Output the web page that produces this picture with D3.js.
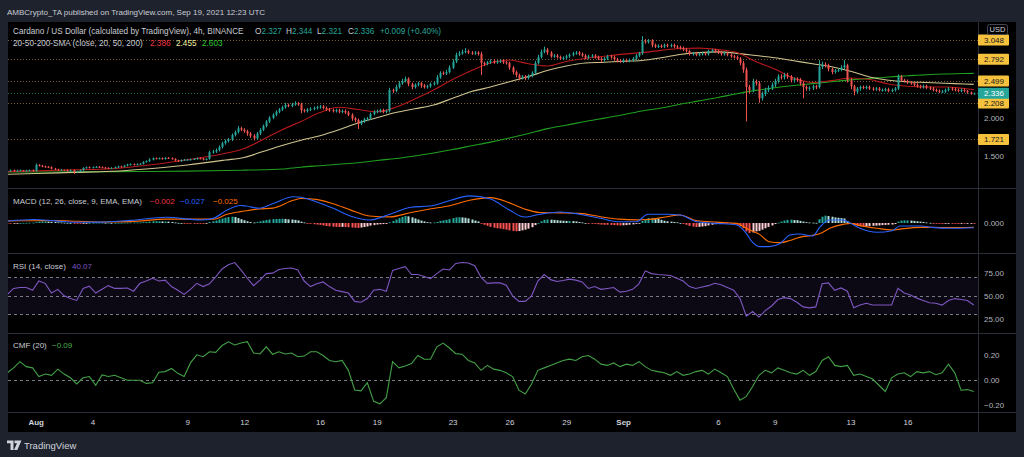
<!DOCTYPE html>
<html><head><meta charset="utf-8">
<script src="https://cdn.jsdelivr.net/npm/d3@7"></script>
<style>
html,body{margin:0;padding:0;background:#1e222d;}
svg{display:block;}
text{font-family:"Liberation Sans",Arial,sans-serif;}
</style></head><body>
<svg id="c" width="1024" height="457"></svg>
<script>
// ---------------- DATA ----------------
// 4h candles from 2021-07-30 12:00 UTC to 2021-09-19 12:00 UTC (open = previous close)
const firstOpen = 1.295;
const closes = [
1.30,1.31,1.30,
1.305,1.31,1.30,1.305,1.31,1.30,
1.38,1.37,1.36,1.355,1.35,1.33,
1.32,1.31,1.315,1.31,1.30,1.31,
1.29,1.295,1.31,1.34,1.35,1.345,
1.35,1.355,1.35,1.345,1.34,1.335,
1.34,1.35,1.36,1.355,1.37,1.385,
1.39,1.385,1.39,1.395,1.42,1.43,
1.45,1.47,1.465,1.47,1.46,1.475,
1.47,1.46,1.44,1.43,1.445,1.45,
1.45,1.455,1.46,1.47,1.465,1.45,
1.46,1.55,1.56,1.58,1.62,1.67,
1.70,1.72,1.78,1.82,1.87,1.85,
1.83,1.80,1.77,1.735,1.80,1.85,
1.90,1.96,2.01,2.05,2.09,2.12,
2.15,2.18,2.17,2.19,2.20,2.19,
2.11,2.10,2.12,2.13,2.14,2.15,
2.16,2.14,2.12,2.11,2.10,2.11,
2.09,2.10,2.08,2.05,2.00,1.98,
1.93,1.96,1.99,2.00,2.06,2.09,
2.10,2.11,2.09,2.10,2.38,2.37,
2.42,2.47,2.50,2.53,2.46,2.42,
2.45,2.47,2.44,2.42,2.43,2.46,
2.47,2.55,2.61,2.60,2.62,2.68,
2.76,2.85,2.87,2.89,2.90,2.88,
2.87,2.88,2.86,2.74,2.73,2.75,
2.77,2.75,2.76,2.77,2.75,2.74,
2.68,2.62,2.58,2.54,2.56,2.54,
2.57,2.61,2.74,2.82,2.89,2.92,
2.88,2.83,2.84,2.82,2.80,2.81,
2.83,2.85,2.87,2.88,2.86,2.84,
2.81,2.83,2.84,2.82,2.80,2.78,
2.80,2.83,2.82,2.79,2.77,2.76,
2.78,2.77,2.78,2.80,2.84,2.87,
3.03,3.02,3.04,2.98,2.96,2.97,
2.96,2.98,2.97,2.98,2.96,2.95,
2.94,2.92,2.90,2.86,2.87,2.85,
2.86,2.87,2.86,2.90,2.91,2.90,
2.88,2.86,2.87,2.85,2.83,2.82,
2.80,2.74,2.65,2.42,2.38,2.49,
2.47,2.27,2.33,2.38,2.41,2.45,
2.50,2.56,2.55,2.58,2.56,2.51,
2.53,2.52,2.47,2.42,2.40,2.41,
2.43,2.42,2.69,2.72,2.71,2.66,
2.62,2.64,2.65,2.68,2.71,2.51,
2.43,2.36,2.40,2.42,2.41,2.42,
2.40,2.39,2.40,2.38,2.38,2.39,
2.37,2.38,2.40,2.56,2.51,2.50,
2.48,2.47,2.45,2.43,2.42,2.43,
2.41,2.40,2.38,2.37,2.36,2.36,
2.38,2.40,2.39,2.38,2.37,2.38,
2.37,2.35,2.327,2.336];
// upper / lower wick beyond the body, in cents
const wickHi = [
1,1,1, 1,1,0,1,1,1, 2,1,1,1,1,1, 1,1,1,0,1,1, 1,1,1,1,1,1, 1,1,1,1,1,1,
1,1,1,1,1,1, 1,1,1,1,1,1, 2,1,1,1,1,1, 1,1,1,1,1,1, 1,1,1,1,1,1, 1,2,2,2,2,2,
2,2,2,2,3,2, 2,2,2,2,2,2, 2,2,2,2,2,2, 2,3,2,2,3,2, 2,2,2,2,2,2, 2,2,2,2,2,2,
2,2,2,2,2,2, 2,2,2,2,2,2, 2,2,2,2,3,2, 3,3,3,3,2,2, 2,2,2,2,2,2, 2,3,2,2,3,3,
3,3,3,3,4,2, 2,2,2,3,2,2, 2,2,2,2,2,2, 2,2,2,2,2,2, 2,2,3,3,3,4, 2,2,2,2,2,2,
2,2,2,2,2,2, 2,2,2,2,2,2, 2,2,2,2,2,2, 2,2,2,2,2,2, 7,3,2,2,2,2, 2,2,2,2,2,2,
2,2,2,2,2,2, 2,2,2,2,2,2, 2,2,2,2,2,2, 2,2,3,3,3,4, 3,3,3,3,3,3, 3,3,3,3,3,2,
2,2,2,2,2,2, 2,2,9,4,3,2, 2,2,2,3,7,2, 3,2,2,2,2,2, 2,2,2,2,2,2, 2,2,2,3,2,2,
2,2,2,2,2,2, 2,2,2,2,2,2, 2,2,2,2,2,2, 2,1,1,1];
const wickLo = [
1,1,1, 1,1,1,1,1,1, 1,1,1,1,1,1, 1,1,1,1,1,1, 3,1,1,1,1,1, 1,1,1,1,1,1,
1,1,1,1,1,1, 1,1,1,1,1,1, 1,1,1,1,1,1, 1,1,1,1,1,1, 1,1,1,1,1,1, 1,1,2,2,2,2,
2,2,2,2,2,2, 2,3,3,3,2,2, 2,2,2,2,2,2, 2,2,2,2,2,2, 4,2,2,2,2,2, 2,2,2,2,2,2,
2,2,2,2,3,3, 7,2,2,2,2,2, 2,2,2,2,2,3, 2,2,2,2,3,3, 2,2,3,2,2,2, 2,2,2,2,2,2,
2,2,2,2,2,2, 2,2,2,16,3,2, 2,2,2,2,2,2, 3,3,3,3,2,3, 2,2,2,2,2,2, 3,2,2,2,2,2,
2,2,2,2,2,2, 2,2,2,2,2,3, 2,2,2,2,2,2, 2,2,2,2,2,2, 2,2,2,3,2,2, 2,2,2,2,2,2,
2,2,2,2,2,2, 2,2,2,2,2,2, 2,2,2,2,2,2, 2,3,4,46,5,3, 3,6,3,3,3,3, 3,3,3,3,3,3,
3,3,3,15,3,3, 3,3,2,3,3,3, 3,2,2,2,2,3, 4,5,3,3,2,2, 2,2,2,2,2,2, 2,2,2,2,2,2,
2,2,2,2,2,2, 2,2,2,2,2,2, 2,2,2,2,2,2, 2,2,1,1];
// MACD histogram per candle, in thousandths
const macdHist = [
-2,-3,-2, -1,0,1,1,2,2, 5,8,9,9,8,7, 6,4,3,2,1,0, -3,-4,-4,-3,-1,0, 1,2,2,2,1,1,
0,0,1,1,2,2, 3,3,3,3,5,6, 8,10,10,10,9,9, 8,6,3,1,0,-1, -2,-2,-2,-2,-3,-4, -3,6,10,14,20,26,
30,34,36,34,28,22, 16,10,6,3,6,10, 14,17,20,22,23,24, 24,23,21,20,18,15, 8,3,-1,-4,-7,-9, -11,-14,-17,-19,-21,-22,
-23,-22,-23,-24,-26,-27, -28,-26,-23,-20,-15,-12, -9,-7,-6,-5,4,12, 20,28,35,40,38,32, 26,20,14,9,5,3, 3,6,12,15,18,22,
28,32,33,32,30,26, 20,14,9,-2,-10,-16, -22,-27,-30,-32,-35,-38, -42,-45,-47,-46,-42,-38, -32,-24,-12,0,10,18, 20,19,18,16,14,13,
12,12,11,9,6,3, 0,-2,-4,-5,-7,-9, -10,-10,-11,-12,-13,-14, -13,-12,-10,-8,-5,-1, 12,20,28,29,27,24, 18,13,10,8,6,4,
0,-5,-10,-16,-20,-23, -22,-20,-18,-14,-10,-7, -5,-4,-4,-4,-5,-6, -10,-18,-30,-48,-57,-54, -48,-45,-38,-30,-22,-14, -6,2,8,14,18,19,
17,16,12,8,5,3, 2,1,22,36,42,40, 36,32,30,28,26,12, -2,-10,-15,-18,-19,-18, -17,-16,-15,-14,-12,-11, -10,-9,-6,8,14,15,
15,14,12,10,8,6, 3,1,-1,-3,-4,-5, -4,-3,-3,-4,-5,-4, -4,-3,-2,-2];
// MACD & signal lines, sampled at days after 2021-08-01 00:00 UTC
const macdDay = [-1.5,-0.1,1,2.2,3.4,5,6.9,8.7,9.4,10.1,10.8,11.1,11.8,12.5,13.6,14,14.8,15.7,16.6,17.6,
 18.7,19.8,20.8,21.9,22.9,24,25,25.8,26.6,27.7,28.7,29.8,30.8,31.7,32.3,33.3,34,34.9,35.9,37,
 37.5,37.8,38.2,38.7,39.3,39.8,40.3,41,41.4,41.9,42.6,43,43.5,44.4,45.2,45.6,46.7,47.3,48.2,49.5];
const macdLine = [0.011,0.02,0.012,0.004,0.005,0.015,0.033,0.017,0.028,0.074,0.10,0.097,0.084,0.11,0.15,0.147,0.122,0.084,0.04,0.017,
 0.05,0.09,0.097,0.13,0.155,0.137,0.074,0.034,0.05,0.063,0.05,0.027,0.007,0.007,0.05,0.05,0.046,0.007,-0.002,-0.011,
 -0.059,-0.107,-0.135,-0.135,-0.116,-0.069,-0.063,-0.074,-0.021,0.017,0.017,-0.002,-0.03,-0.053,-0.044,-0.017,-0.017,-0.025,-0.03,-0.027];
const signalLine = [0.012,0.013,0.014,0.010,0.006,0.008,0.022,0.022,0.022,0.05,0.065,0.07,0.08,0.085,0.13,0.14,0.135,0.11,0.075,0.04,
 0.035,0.06,0.08,0.10,0.13,0.145,0.115,0.08,0.06,0.058,0.055,0.036,0.022,0.018,0.02,0.036,0.046,0.013,0.005,-0.002,
 -0.03,-0.045,-0.065,-0.107,-0.112,-0.10,-0.082,-0.07,-0.06,-0.03,-0.008,-0.002,-0.015,-0.03,-0.04,-0.035,-0.025,-0.025,-0.026,-0.025];
// SMA lines sampled at days after 2021-08-01
const smaDay = [-1.5,0,2,4,6,8,10,11,12,13,14,15,16,17,18,19,20,21,22,23,24,25,26,27,28,29,30,31,32,33,34,35,36,37,38,39,40,41,42,43,44,45,46,47,48,49,49.5];
const sma20 = [1.29,1.30,1.315,1.33,1.38,1.45,1.535,1.60,1.72,1.85,1.96,2.08,2.15,2.12,2.09,2.15,2.26,2.38,2.52,2.64,2.74,2.78,2.73,2.70,2.76,2.80,2.83,2.86,2.88,2.91,2.935,2.94,2.92,2.88,2.76,2.66,2.54,2.48,2.505,2.54,2.52,2.46,2.43,2.42,2.42,2.40,2.386];
const sma50 = [1.255,1.265,1.28,1.295,1.33,1.38,1.445,1.48,1.56,1.64,1.71,1.77,1.85,1.94,2.01,2.08,2.13,2.18,2.27,2.36,2.42,2.49,2.56,2.64,2.70,2.74,2.75,2.765,2.775,2.81,2.855,2.88,2.89,2.87,2.84,2.81,2.77,2.73,2.69,2.63,2.555,2.51,2.49,2.48,2.47,2.46,2.455];
const sma200 = [1.285,1.285,1.287,1.29,1.293,1.297,1.305,1.31,1.315,1.325,1.35,1.37,1.39,1.41,1.44,1.465,1.50,1.54,1.585,1.635,1.685,1.74,1.80,1.865,1.91,1.96,2.005,2.05,2.10,2.14,2.19,2.235,2.28,2.33,2.375,2.41,2.44,2.465,2.49,2.515,2.535,2.555,2.57,2.585,2.595,2.60,2.603];
// RSI and CMF, one value every 2 candles
const rsi = [51.5,58,59,59,56,66,63.5,53,57,50,47,45,58,60.5,53,57,61,58,58,58.5,
 55,63.5,66,69,66,67,60,56,51.5,57,63.5,60,63,70.5,79,83.5,86,78,69,61,
 67,74,74.5,78.5,79.5,80,78,66,60,63,65,60,56,54.5,53,44,43,47,56,57,
 55,77.5,79.5,81.5,73,73,71,68.5,74,79,78,85,86,85.5,82.5,70,63.5,64,64,61.5,
 50,44,44,50,66,73,67.5,65.5,66.5,68,67,65,58,60,57,58,59,54,55,57,
 63,77,74,73,72.5,72,69,66,60,58,59.5,61,63.5,62,59,56,47,28,33,27,
 34,39,46,48,47,43,38,37,38,63,64,56,58.5,55,37,40,42,40,40,40,
 40,58,53,51,47.5,45,42.5,42,40,45,47,46,45,40.07];
const cmf = [0.06,0.10,0.15,0.11,0.10,0.03,0.05,0.04,0.09,0.05,0.02,-0.03,0.02,0.03,-0.04,0.043,0.03,0.04,0.02,0,
 0,0,-0.025,-0.02,0.065,0.07,0.095,0.056,0.03,0.14,0.205,0.19,0.23,0.225,0.28,0.31,0.285,0.30,0.311,0.22,
 0.212,0.27,0.21,0.23,0.212,0.22,0.19,0.195,0.23,0.23,0.20,0.16,0.15,0.16,0.08,-0.078,-0.085,-0.02,-0.17,-0.19,
 -0.14,0.15,0.10,0.115,0.135,0.20,0.17,0.17,0.27,0.30,0.26,0.215,0.21,0.16,0.14,0.08,0.12,0.09,0.08,0.06,
 0.03,-0.08,-0.11,-0.03,0.08,0.10,0.12,0.14,0.16,0.17,0.16,0.19,0.20,0.17,0.13,0.12,0.14,0.11,0.13,0.12,
 0.15,0.11,0.08,0.07,0.06,0.04,0.07,0.04,0.05,0.07,0.08,0.05,0.09,0.06,0.03,-0.07,-0.16,-0.13,-0.05,0.04,
 0.08,0.06,0.10,0.08,0.06,0.05,0.08,0.04,0.07,0.16,0.19,0.12,0.11,0.12,0.04,0.05,0.03,0.01,-0.04,-0.09,
 0.02,0.05,0.06,0.03,0.07,0.06,0.07,0.045,0.06,0.13,0.06,-0.08,-0.075,-0.09];
// horizontal levels, last price and tick labels
const levels = [3.048, 2.792, 2.499, 2.208, 1.721];
const lastPrice = 2.336;
const priceTicks = [2.000, 1.500];
const rsiTicks = [75, 50, 25];
const rsiBand = [70, 50, 30];
const cmfTicks = [0.20, 0.00, -0.20];
const timeTickDays = [0,3,8,11,15,18,22,25,28,31,36,39,43,46];
const timeTickLabels = ["Aug","4","9","12","16","19","23","26","29","Sep","6","9","13","16"];

// ---------------- LAYOUT ----------------
const W=1024, H=457, L=8, R=978, AXR=1016, TOP=22, BOT=432;
const P = {main:[22,188], macd:[188,253], rsi:[253,333], cmf:[333,412]};
const DAY=86400000, H4=4*3600000;
const aug1 = Date.UTC(2021,7,1);
const t0 = Date.UTC(2021,6,30,12);
const cTime = i => new Date(t0 + i*H4);
const dTime = d => new Date(aug1 + d*DAY);

const svg = d3.select("#c");
svg.append("rect").attr("width",W).attr("height",H).attr("fill","#1e222d");
svg.append("rect").attr("x",L).attr("y",TOP).attr("width",AXR-L).attr("height",BOT-TOP).attr("fill","#000");

const x = d3.scaleUtc().domain([dTime(-1.4617), dTime(49.726)]).range([L,R]);
const yP = d3.scaleLinear().domain([1.072, 3.2883]).range([P.main[1], P.main[0]]);
const yM = d3.scaleLinear().domain([-0.1714, 0.2]).range([P.macd[1], P.macd[0]]);
const yR = d3.scaleLinear().domain([9.8, 96.3]).range([P.rsi[1], P.rsi[0]]);
const yC = d3.scaleLinear().domain([-0.2556, 0.381]).range([P.cmf[1], P.cmf[0]]);

const defs = svg.append("defs");
Object.entries(P).forEach(([k,[a,b]])=>{
  defs.append("clipPath").attr("id","clip-"+k).append("rect").attr("x",L).attr("y",a).attr("width",R-L).attr("height",b-a);
});
const g = k => svg.append("g").attr("clip-path","url(#clip-"+k+")");

// ---------- MAIN ----------
const gm = g("main");
levels.forEach(v=>{
  gm.append("line").attr("x1",L).attr("x2",R).attr("y1",Math.round(yP(v))+0.5).attr("y2",Math.round(yP(v))+0.5)
    .attr("stroke","#7a6135").attr("stroke-dasharray","1,2");
});
gm.append("line").attr("x1",L).attr("x2",R).attr("y1",Math.round(yP(lastPrice))+0.5).attr("y2",Math.round(yP(lastPrice))+0.5)
  .attr("stroke","#1c6e66").attr("stroke-dasharray","1,2");

const candles = closes.map((c,i)=>{
  const o = i===0 ? firstOpen : closes[i-1];
  return {t:cTime(i), o, c, h:Math.max(o,c)+wickHi[i]/100, l:Math.min(o,c)-wickLo[i]/100};
});
const UP="#26a69a", DN="#ef5350";
const sma = (arr,col) => gm.append("path").datum(arr.map((v,i)=>[dTime(smaDay[i]),v]))
  .attr("fill","none").attr("stroke",col).attr("stroke-width",1.1)
  .attr("d", d3.line().x(d=>x(d[0])).y(d=>yP(d[1])).curve(d3.curveMonotoneX));
sma(sma200,"#1f9e1f");
sma(sma50,"#cfc48e");
sma(sma20,"#b8191c");
gm.selectAll("line.wick").data(candles).join("line").attr("class","wick")
  .attr("x1",d=>Math.round(x(d.t))+0.5).attr("x2",d=>Math.round(x(d.t))+0.5)
  .attr("y1",d=>yP(d.h)).attr("y2",d=>yP(d.l))
  .attr("stroke",d=>d.c>=d.o?UP:DN).attr("stroke-width",1);
gm.selectAll("rect.body").data(candles).join("rect").attr("class","body")
  .attr("x",d=>Math.round(x(d.t))-0.5).attr("width",2)
  .attr("y",d=>yP(Math.max(d.o,d.c)))
  .attr("height",d=>Math.max(1,Math.abs(yP(d.o)-yP(d.c))))
  .attr("fill",d=>d.c>=d.o?UP:DN);

// ---------- MACD ----------
const gmc = g("macd");
gmc.selectAll("rect").data(macdHist).join("rect")
  .attr("x",(d,i)=>Math.round(x(cTime(i)))-0.5).attr("width",2)
  .attr("y",d=>Math.min(yM(0),yM(d/1000)))
  .attr("height",d=>Math.max(0.8,Math.abs(yM(d/1000)-yM(0))))
  .attr("fill",(d,i)=>{
    const p = i>0?macdHist[i-1]:d;
    if(d>=0) return d>=p?"#26a69a":"#b2dfdb";
    return d<=p?"#ff5252":"#ffcdd2";
  });
const mline = arr => d3.line().x((d,i)=>x(dTime(macdDay[i]))).y(d=>yM(d)).curve(d3.curveMonotoneX)(arr);
gmc.append("path").attr("d",mline(signalLine)).attr("fill","none").attr("stroke","#ff6d00").attr("stroke-width",1.1);
gmc.append("path").attr("d",mline(macdLine)).attr("fill","none").attr("stroke","#2962ff").attr("stroke-width",1.1);

// ---------- RSI ----------
const gr = g("rsi");
gr.append("rect").attr("x",L).attr("width",R-L).attr("y",yR(rsiBand[0])).attr("height",yR(rsiBand[2])-yR(rsiBand[0]))
  .attr("fill","rgba(126,87,194,0.1)");
rsiBand.forEach(v=>gr.append("line").attr("x1",L).attr("x2",R).attr("y1",Math.round(yR(v))+0.5).attr("y2",Math.round(yR(v))+0.5)
  .attr("stroke","#787b86").attr("stroke-dasharray","3,3"));
gr.append("path").attr("d", d3.line().x((d,i)=>x(cTime(i*2))).y(d=>yR(d))(rsi))
  .attr("fill","none").attr("stroke","#7e57c2").attr("stroke-width",1.1);

// ---------- CMF ----------
const gc = g("cmf");
gc.append("line").attr("x1",L).attr("x2",R).attr("y1",Math.round(yC(0))+0.5).attr("y2",Math.round(yC(0))+0.5)
  .attr("stroke","#787b86").attr("stroke-dasharray","3,3");
gc.append("path").attr("d", d3.line().x((d,i)=>x(cTime(i*2))).y(d=>yC(d))(cmf))
  .attr("fill","none").attr("stroke","#43a047").attr("stroke-width",1.1);

// ---------- separators ----------
const SEP="#2a2e39";
[P.main[1],P.macd[1],P.rsi[1],P.cmf[1]].forEach(yv=>
  svg.append("line").attr("x1",L).attr("x2",AXR).attr("y1",yv+0.5).attr("y2",yv+0.5).attr("stroke",SEP));
svg.append("line").attr("x1",R+0.5).attr("x2",R+0.5).attr("y1",TOP).attr("y2",BOT).attr("stroke",SEP);

// ---------- price axis ----------
const AX = "#b2b5be", FS = 8;
const axText = (yv,str,col) => svg.append("text").attr("x",984).attr("y",yv+3).attr("fill",col||AX)
  .attr("font-size",FS).text(str);
priceTicks.forEach(v=>axText(yP(v), v.toFixed(3)));
levels.forEach(v=>{
  svg.append("rect").attr("x",978).attr("y",yP(v)-5.5).attr("width",31).attr("height",11).attr("rx",1).attr("fill","#f6c13c");
  axText(yP(v), v.toFixed(3), "#131722");
});
svg.append("rect").attr("x",978).attr("y",yP(lastPrice)-5.5).attr("width",31).attr("height",11).attr("rx",1).attr("fill","#26a69a");
axText(yP(lastPrice), lastPrice.toFixed(3), "#ffffff");
svg.append("rect").attr("x",987.5).attr("y",24.5).attr("width",20).attr("height",10).attr("rx",2)
  .attr("fill","#000").attr("stroke","#434651");
svg.append("text").attr("x",997.5).attr("y",32).attr("text-anchor","middle").attr("fill","#d1d4dc").attr("font-size",7.5).text("USD");

axText(yM(0), (0).toFixed(3));
rsiTicks.forEach(v=>axText(yR(v), v.toFixed(2)));
cmfTicks.forEach(v=>axText(yC(v), (v<0?"\u2212":"")+Math.abs(v).toFixed(2)));

// ---------- time axis ----------
const xa = d3.axisBottom(x).tickValues(timeTickDays.map(dTime)).tickSize(0).tickPadding(0)
  .tickFormat((d,i)=>timeTickLabels[i]);
const gx = svg.append("g").attr("transform","translate(0,419)").call(xa);
gx.select(".domain").remove();
gx.selectAll("text").attr("fill","#d1d4dc").attr("font-size",FS).attr("font-family","Liberation Sans, Arial, sans-serif")
  .attr("font-weight",(d,i)=>(timeTickLabels[i]==="Aug"||timeTickLabels[i]==="Sep")?"bold":"normal");

// ---------- legends ----------
const TX="#c9ccd4", LF=8.2, PF=8;
const t = (xv,yv,str,col,fs) => svg.append("text").attr("x",xv).attr("y",yv).attr("fill",col||TX).attr("font-size",fs||LF).text(str);
t(7,15,"AMBCrypto_TA published on TradingView.com, Sep 19, 2021 12:23 UTC","#c9ccd4",8);
t(13,34,"Cardano / US Dollar (calculated by TradingView), 4h, BINANCE");
const ohlc = [["O","2.327",255],["H","2.344",286],["L","2.321",317],["C","2.336",348]];
ohlc.forEach(([k,v,xv])=>{
  const tt = t(xv,34,"");
  tt.append("tspan").text(k); tt.append("tspan").attr("fill","#26a69a").text(v);
});
t(380,34,"+0.009 (+0.40%)","#26a69a");
t(13,46,"20-50-200-SMA (close, 20, 50, 200)");
t(150,46,sma20[sma20.length-1].toFixed(3),"#f23645");
t(176,46,sma50[sma50.length-1].toFixed(3),"#f2eea0");
t(202,46,sma200[sma200.length-1].toFixed(3),"#33cc33");
t(13,204,"MACD (12, 26, close, 9, EMA, EMA)",TX,PF);
t(150,204,"\u22120.002","#f23645",PF);
t(180,204,"\u22120.027","#2962ff",PF);
t(213,204,"\u22120.025","#ff6d00",PF);
t(13,269,"RSI (14, close)",TX,PF);
t(72,269,rsi[rsi.length-1].toFixed(2),"#7e57c2",PF);
t(13,348,"CMF (20)",TX,PF);
t(52,348,"\u22120.09","#4caf50",PF);

// ---------- footer logo ----------
svg.append("path").attr("d","M7,440.5h6.5v9.5h-3v-6.8h-3.5z M14.5,440.5h7l-4.2,9.5h-3.3l3-6.8h-2.5z").attr("fill","#d1d4dc");
t(24,448.5,"TradingView","#d1d4dc",9.5);
</script>
</body></html>
